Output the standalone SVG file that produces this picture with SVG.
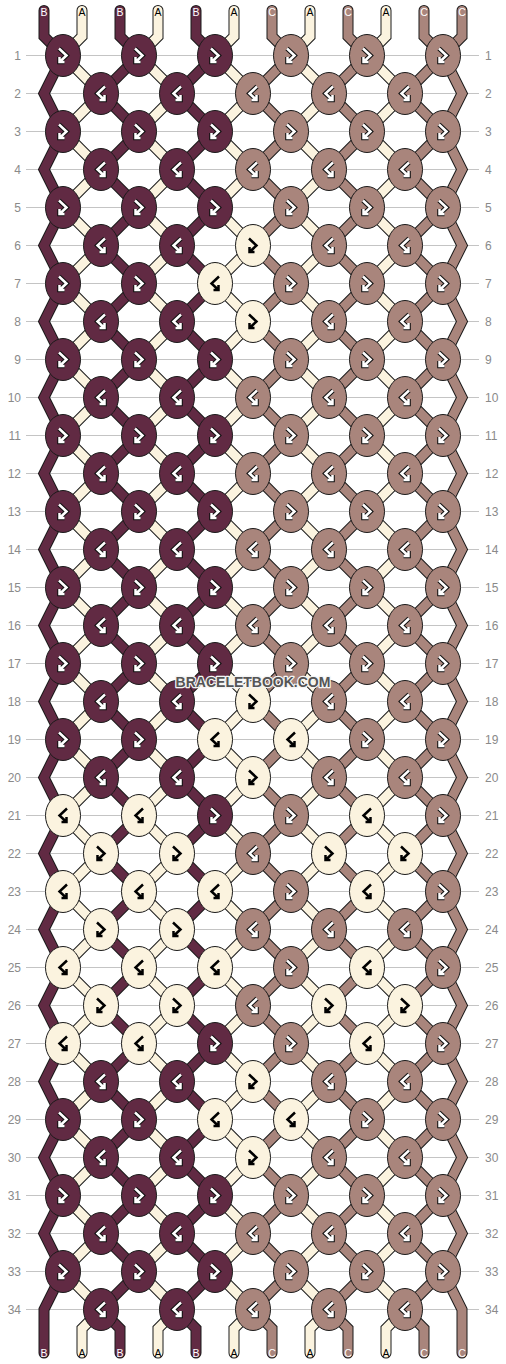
<svg xmlns="http://www.w3.org/2000/svg" xmlns:xlink="http://www.w3.org/1999/xlink" width="506" height="1364" viewBox="0 0 506 1364">
<style>
.grid{fill:none;stroke:#c4c4c4;stroke-width:1}
.rn{font-family:"Liberation Sans",Arial,sans-serif;font-size:12px;fill:#8a8a8a}
.rl{text-anchor:end}
.sl{font-family:"Liberation Sans",Arial,sans-serif;font-size:10.5px;text-anchor:middle}
.lw{fill:#fff}.lk{fill:#000}
.so{fill:none;stroke:#1a1a1a;stroke-width:11;stroke-linecap:round;stroke-linejoin:miter}
.sB,.sA,.sC{fill:none;stroke-width:9;stroke-linecap:round;stroke-linejoin:miter}
.sB{stroke:#612a43}.sA{stroke:#fbf3df}.sC{stroke:#a9857c}
.ko{stroke:#1a1a1a;stroke-width:1}
.fB{fill:#612a43}.fA{fill:#fbf3df}.fC{fill:#a9857c}
.gw1{fill:none;stroke:#111;stroke-width:4.6;stroke-linejoin:miter}
.gw2{fill:none;stroke:#fff;stroke-width:2.5;stroke-linejoin:miter}
.gk{fill:none;stroke:#000;stroke-width:2.5;stroke-linejoin:miter}
.wm{font-family:"Liberation Sans",Arial,sans-serif;font-weight:bold;font-size:14px;text-anchor:middle;fill:#555;stroke:#f4f4f4;stroke-width:2.5;paint-order:stroke;stroke-linejoin:round}
</style>
<defs>
<path id="gF" d="M-4,-7L3.5,0L-3.5,6.5M-3.5,1.5V6.5H1.5"/>
<path id="gB" d="M4,-7L-3.5,0L3.5,6.5M3.5,1.5V6.5H-1.5"/>
<g id="oB"><ellipse class="ko fB" rx="17.5" ry="21"/><use href="#gF" class="gw1"/><use href="#gF" class="gw2"/></g>
<g id="oC"><ellipse class="ko fC" rx="17.5" ry="21"/><use href="#gF" class="gw1"/><use href="#gF" class="gw2"/></g>
<g id="oA"><ellipse class="ko fA" rx="17.5" ry="21"/><use href="#gB" class="gk"/></g>
<g id="eB"><ellipse class="ko fB" rx="17.5" ry="21"/><use href="#gB" class="gw1"/><use href="#gB" class="gw2"/></g>
<g id="eC"><ellipse class="ko fC" rx="17.5" ry="21"/><use href="#gB" class="gw1"/><use href="#gB" class="gw2"/></g>
<g id="eA"><ellipse class="ko fA" rx="17.5" ry="21"/><use href="#gF" class="gk"/></g>
<path id="sL" d="M44,10.5V36.5l19,19l-19,38l19,38l-19,38l19,38l-19,38l19,38l-19,38l19,38l-19,38l19,38l-19,38l19,38l-19,38l19,38l-19,38l19,38l-19,38l19,38l-19,38l19,38l-19,38l19,38l-19,38l19,38l-19,38l19,38l-19,38l19,38l-19,38l19,38l-19,38l19,38l-19,38V1353"/>
<path id="sR" d="M462,10.5V36.5l-19,19l19,38l-19,38l19,38l-19,38l19,38l-19,38l19,38l-19,38l19,38l-19,38l19,38l-19,38l19,38l-19,38l19,38l-19,38l19,38l-19,38l19,38l-19,38l19,38l-19,38l19,38l-19,38l19,38l-19,38l19,38l-19,38l19,38l-19,38l19,38l-19,38l19,38V1353"/>
<path id="sE" d="M82,10.5V36.5l-19,19l38,38l-38,38l38,38l-38,38l38,38l-38,38l38,38l-38,38l38,38l-38,38l38,38l-38,38l38,38l-38,38l38,38l-38,38l38,38l-38,38l38,38l-38,38l38,38l-38,38l38,38l-38,38l38,38l-38,38l38,38l-38,38l38,38l-38,38l38,38l-38,38l38,38l-19,19V1353"/>
<path id="sO" d="M120,10.5V36.5l19,19l-38,38l38,38l-38,38l38,38l-38,38l38,38l-38,38l38,38l-38,38l38,38l-38,38l38,38l-38,38l38,38l-38,38l38,38l-38,38l38,38l-38,38l38,38l-38,38l38,38l-38,38l38,38l-38,38l38,38l-38,38l38,38l-38,38l38,38l-38,38l38,38l-38,38l19,19V1353"/>
</defs>
<rect width="506" height="1364" fill="#fff"/>
<g id="rows">
<path class="grid" d="M26,55.5H479M26,93.5H479M26,131.5H479M26,169.5H479M26,207.5H479M26,245.5H479M26,283.5H479M26,321.5H479M26,359.5H479M26,397.5H479M26,435.5H479M26,473.5H479M26,511.5H479M26,549.5H479M26,587.5H479M26,625.5H479M26,663.5H479M26,701.5H479M26,739.5H479M26,777.5H479M26,815.5H479M26,853.5H479M26,891.5H479M26,929.5H479M26,967.5H479M26,1005.5H479M26,1043.5H479M26,1081.5H479M26,1119.5H479M26,1157.5H479M26,1195.5H479M26,1233.5H479M26,1271.5H479M26,1309.5H479"/>
<g class="rn rl">
<text x="21" y="59.5">1</text><text x="21" y="97.5">2</text><text x="21" y="135.5">3</text><text x="21" y="173.5">4</text><text x="21" y="211.5">5</text><text x="21" y="249.5">6</text><text x="21" y="287.5">7</text><text x="21" y="325.5">8</text><text x="21" y="363.5">9</text><text x="21" y="401.5">10</text><text x="21" y="439.5">11</text><text x="21" y="477.5">12</text><text x="21" y="515.5">13</text><text x="21" y="553.5">14</text><text x="21" y="591.5">15</text><text x="21" y="629.5">16</text><text x="21" y="667.5">17</text><text x="21" y="705.5">18</text><text x="21" y="743.5">19</text><text x="21" y="781.5">20</text><text x="21" y="819.5">21</text><text x="21" y="857.5">22</text><text x="21" y="895.5">23</text><text x="21" y="933.5">24</text><text x="21" y="971.5">25</text><text x="21" y="1009.5">26</text><text x="21" y="1047.5">27</text><text x="21" y="1085.5">28</text><text x="21" y="1123.5">29</text><text x="21" y="1161.5">30</text><text x="21" y="1199.5">31</text><text x="21" y="1237.5">32</text><text x="21" y="1275.5">33</text><text x="21" y="1313.5">34</text>
</g>
<g class="rn">
<text x="485" y="59.5">1</text><text x="485" y="97.5">2</text><text x="485" y="135.5">3</text><text x="485" y="173.5">4</text><text x="485" y="211.5">5</text><text x="485" y="249.5">6</text><text x="485" y="287.5">7</text><text x="485" y="325.5">8</text><text x="485" y="363.5">9</text><text x="485" y="401.5">10</text><text x="485" y="439.5">11</text><text x="485" y="477.5">12</text><text x="485" y="515.5">13</text><text x="485" y="553.5">14</text><text x="485" y="591.5">15</text><text x="485" y="629.5">16</text><text x="485" y="667.5">17</text><text x="485" y="705.5">18</text><text x="485" y="743.5">19</text><text x="485" y="781.5">20</text><text x="485" y="819.5">21</text><text x="485" y="857.5">22</text><text x="485" y="895.5">23</text><text x="485" y="933.5">24</text><text x="485" y="971.5">25</text><text x="485" y="1009.5">26</text><text x="485" y="1047.5">27</text><text x="485" y="1085.5">28</text><text x="485" y="1123.5">29</text><text x="485" y="1161.5">30</text><text x="485" y="1199.5">31</text><text x="485" y="1237.5">32</text><text x="485" y="1275.5">33</text><text x="485" y="1313.5">34</text>
</g>
</g>
<g id="strings">
<g id="s1"><use href="#sL" class="so"/><use href="#sL" class="sB"/></g>
<g id="s2"><use href="#sE" class="so"/><use href="#sE" class="sA"/></g>
<g id="s3"><use href="#sO" class="so"/><use href="#sO" class="sB"/></g>
<g id="s4"><use href="#sE" x="76" class="so"/><use href="#sE" x="76" class="sA"/></g>
<g id="s5"><use href="#sO" x="76" class="so"/><use href="#sO" x="76" class="sB"/></g>
<g id="s6"><use href="#sE" x="152" class="so"/><use href="#sE" x="152" class="sA"/></g>
<g id="s7"><use href="#sO" x="152" class="so"/><use href="#sO" x="152" class="sC"/></g>
<g id="s8"><use href="#sE" x="228" class="so"/><use href="#sE" x="228" class="sA"/></g>
<g id="s9"><use href="#sO" x="228" class="so"/><use href="#sO" x="228" class="sC"/></g>
<g id="s10"><use href="#sE" x="304" class="so"/><use href="#sE" x="304" class="sA"/></g>
<g id="s11"><use href="#sO" x="304" class="so"/><use href="#sO" x="304" class="sC"/></g>
<g id="s12"><use href="#sR" class="so"/><use href="#sR" class="sC"/></g>
</g>
<g id="labels" class="sl">
<text x="44" y="15.5" class="lw">B</text><text x="82" y="15.5" class="lk">A</text><text x="120" y="15.5" class="lw">B</text><text x="158" y="15.5" class="lk">A</text><text x="196" y="15.5" class="lw">B</text><text x="234" y="15.5" class="lk">A</text><text x="272" y="15.5" class="lw">C</text><text x="310" y="15.5" class="lk">A</text><text x="348" y="15.5" class="lw">C</text><text x="386" y="15.5" class="lk">A</text><text x="424" y="15.5" class="lw">C</text><text x="462" y="15.5" class="lw">C</text>
<text x="44" y="1356.5" class="lw">B</text><text x="82" y="1356.5" class="lk">A</text><text x="120" y="1356.5" class="lw">B</text><text x="158" y="1356.5" class="lk">A</text><text x="196" y="1356.5" class="lw">B</text><text x="234" y="1356.5" class="lk">A</text><text x="272" y="1356.5" class="lw">C</text><text x="310" y="1356.5" class="lk">A</text><text x="348" y="1356.5" class="lw">C</text><text x="386" y="1356.5" class="lk">A</text><text x="424" y="1356.5" class="lw">C</text><text x="462" y="1356.5" class="lw">C</text>
</g>
<g id="knots">
<g id="k1-1"><use href="#oB" x="63" y="55.5"/></g><g id="k1-2"><use href="#oB" x="139" y="55.5"/></g><g id="k1-3"><use href="#oB" x="215" y="55.5"/></g><g id="k1-4"><use href="#oC" x="291" y="55.5"/></g><g id="k1-5"><use href="#oC" x="367" y="55.5"/></g><g id="k1-6"><use href="#oC" x="443" y="55.5"/></g>
<g id="k2-1"><use href="#eB" x="101" y="93.5"/></g><g id="k2-2"><use href="#eB" x="177" y="93.5"/></g><g id="k2-3"><use href="#eC" x="253" y="93.5"/></g><g id="k2-4"><use href="#eC" x="329" y="93.5"/></g><g id="k2-5"><use href="#eC" x="405" y="93.5"/></g>
<g id="k3-1"><use href="#oB" x="63" y="131.5"/></g><g id="k3-2"><use href="#oB" x="139" y="131.5"/></g><g id="k3-3"><use href="#oB" x="215" y="131.5"/></g><g id="k3-4"><use href="#oC" x="291" y="131.5"/></g><g id="k3-5"><use href="#oC" x="367" y="131.5"/></g><g id="k3-6"><use href="#oC" x="443" y="131.5"/></g>
<g id="k4-1"><use href="#eB" x="101" y="169.5"/></g><g id="k4-2"><use href="#eB" x="177" y="169.5"/></g><g id="k4-3"><use href="#eC" x="253" y="169.5"/></g><g id="k4-4"><use href="#eC" x="329" y="169.5"/></g><g id="k4-5"><use href="#eC" x="405" y="169.5"/></g>
<g id="k5-1"><use href="#oB" x="63" y="207.5"/></g><g id="k5-2"><use href="#oB" x="139" y="207.5"/></g><g id="k5-3"><use href="#oB" x="215" y="207.5"/></g><g id="k5-4"><use href="#oC" x="291" y="207.5"/></g><g id="k5-5"><use href="#oC" x="367" y="207.5"/></g><g id="k5-6"><use href="#oC" x="443" y="207.5"/></g>
<g id="k6-1"><use href="#eB" x="101" y="245.5"/></g><g id="k6-2"><use href="#eB" x="177" y="245.5"/></g><g id="k6-3"><use href="#eA" x="253" y="245.5"/></g><g id="k6-4"><use href="#eC" x="329" y="245.5"/></g><g id="k6-5"><use href="#eC" x="405" y="245.5"/></g>
<g id="k7-1"><use href="#oB" x="63" y="283.5"/></g><g id="k7-2"><use href="#oB" x="139" y="283.5"/></g><g id="k7-3"><use href="#oA" x="215" y="283.5"/></g><g id="k7-4"><use href="#oC" x="291" y="283.5"/></g><g id="k7-5"><use href="#oC" x="367" y="283.5"/></g><g id="k7-6"><use href="#oC" x="443" y="283.5"/></g>
<g id="k8-1"><use href="#eB" x="101" y="321.5"/></g><g id="k8-2"><use href="#eB" x="177" y="321.5"/></g><g id="k8-3"><use href="#eA" x="253" y="321.5"/></g><g id="k8-4"><use href="#eC" x="329" y="321.5"/></g><g id="k8-5"><use href="#eC" x="405" y="321.5"/></g>
<g id="k9-1"><use href="#oB" x="63" y="359.5"/></g><g id="k9-2"><use href="#oB" x="139" y="359.5"/></g><g id="k9-3"><use href="#oB" x="215" y="359.5"/></g><g id="k9-4"><use href="#oC" x="291" y="359.5"/></g><g id="k9-5"><use href="#oC" x="367" y="359.5"/></g><g id="k9-6"><use href="#oC" x="443" y="359.5"/></g>
<g id="k10-1"><use href="#eB" x="101" y="397.5"/></g><g id="k10-2"><use href="#eB" x="177" y="397.5"/></g><g id="k10-3"><use href="#eC" x="253" y="397.5"/></g><g id="k10-4"><use href="#eC" x="329" y="397.5"/></g><g id="k10-5"><use href="#eC" x="405" y="397.5"/></g>
<g id="k11-1"><use href="#oB" x="63" y="435.5"/></g><g id="k11-2"><use href="#oB" x="139" y="435.5"/></g><g id="k11-3"><use href="#oB" x="215" y="435.5"/></g><g id="k11-4"><use href="#oC" x="291" y="435.5"/></g><g id="k11-5"><use href="#oC" x="367" y="435.5"/></g><g id="k11-6"><use href="#oC" x="443" y="435.5"/></g>
<g id="k12-1"><use href="#eB" x="101" y="473.5"/></g><g id="k12-2"><use href="#eB" x="177" y="473.5"/></g><g id="k12-3"><use href="#eC" x="253" y="473.5"/></g><g id="k12-4"><use href="#eC" x="329" y="473.5"/></g><g id="k12-5"><use href="#eC" x="405" y="473.5"/></g>
<g id="k13-1"><use href="#oB" x="63" y="511.5"/></g><g id="k13-2"><use href="#oB" x="139" y="511.5"/></g><g id="k13-3"><use href="#oB" x="215" y="511.5"/></g><g id="k13-4"><use href="#oC" x="291" y="511.5"/></g><g id="k13-5"><use href="#oC" x="367" y="511.5"/></g><g id="k13-6"><use href="#oC" x="443" y="511.5"/></g>
<g id="k14-1"><use href="#eB" x="101" y="549.5"/></g><g id="k14-2"><use href="#eB" x="177" y="549.5"/></g><g id="k14-3"><use href="#eC" x="253" y="549.5"/></g><g id="k14-4"><use href="#eC" x="329" y="549.5"/></g><g id="k14-5"><use href="#eC" x="405" y="549.5"/></g>
<g id="k15-1"><use href="#oB" x="63" y="587.5"/></g><g id="k15-2"><use href="#oB" x="139" y="587.5"/></g><g id="k15-3"><use href="#oB" x="215" y="587.5"/></g><g id="k15-4"><use href="#oC" x="291" y="587.5"/></g><g id="k15-5"><use href="#oC" x="367" y="587.5"/></g><g id="k15-6"><use href="#oC" x="443" y="587.5"/></g>
<g id="k16-1"><use href="#eB" x="101" y="625.5"/></g><g id="k16-2"><use href="#eB" x="177" y="625.5"/></g><g id="k16-3"><use href="#eC" x="253" y="625.5"/></g><g id="k16-4"><use href="#eC" x="329" y="625.5"/></g><g id="k16-5"><use href="#eC" x="405" y="625.5"/></g>
<g id="k17-1"><use href="#oB" x="63" y="663.5"/></g><g id="k17-2"><use href="#oB" x="139" y="663.5"/></g><g id="k17-3"><use href="#oB" x="215" y="663.5"/></g><g id="k17-4"><use href="#oC" x="291" y="663.5"/></g><g id="k17-5"><use href="#oC" x="367" y="663.5"/></g><g id="k17-6"><use href="#oC" x="443" y="663.5"/></g>
<g id="k18-1"><use href="#eB" x="101" y="701.5"/></g><g id="k18-2"><use href="#eB" x="177" y="701.5"/></g><g id="k18-3"><use href="#eA" x="253" y="701.5"/></g><g id="k18-4"><use href="#eC" x="329" y="701.5"/></g><g id="k18-5"><use href="#eC" x="405" y="701.5"/></g>
<g id="k19-1"><use href="#oB" x="63" y="739.5"/></g><g id="k19-2"><use href="#oB" x="139" y="739.5"/></g><g id="k19-3"><use href="#oA" x="215" y="739.5"/></g><g id="k19-4"><use href="#oA" x="291" y="739.5"/></g><g id="k19-5"><use href="#oC" x="367" y="739.5"/></g><g id="k19-6"><use href="#oC" x="443" y="739.5"/></g>
<g id="k20-1"><use href="#eB" x="101" y="777.5"/></g><g id="k20-2"><use href="#eB" x="177" y="777.5"/></g><g id="k20-3"><use href="#eA" x="253" y="777.5"/></g><g id="k20-4"><use href="#eC" x="329" y="777.5"/></g><g id="k20-5"><use href="#eC" x="405" y="777.5"/></g>
<g id="k21-1"><use href="#oA" x="63" y="815.5"/></g><g id="k21-2"><use href="#oA" x="139" y="815.5"/></g><g id="k21-3"><use href="#oB" x="215" y="815.5"/></g><g id="k21-4"><use href="#oC" x="291" y="815.5"/></g><g id="k21-5"><use href="#oA" x="367" y="815.5"/></g><g id="k21-6"><use href="#oC" x="443" y="815.5"/></g>
<g id="k22-1"><use href="#eA" x="101" y="853.5"/></g><g id="k22-2"><use href="#eA" x="177" y="853.5"/></g><g id="k22-3"><use href="#eC" x="253" y="853.5"/></g><g id="k22-4"><use href="#eA" x="329" y="853.5"/></g><g id="k22-5"><use href="#eA" x="405" y="853.5"/></g>
<g id="k23-1"><use href="#oA" x="63" y="891.5"/></g><g id="k23-2"><use href="#oA" x="139" y="891.5"/></g><g id="k23-3"><use href="#oA" x="215" y="891.5"/></g><g id="k23-4"><use href="#oC" x="291" y="891.5"/></g><g id="k23-5"><use href="#oA" x="367" y="891.5"/></g><g id="k23-6"><use href="#oC" x="443" y="891.5"/></g>
<g id="k24-1"><use href="#eA" x="101" y="929.5"/></g><g id="k24-2"><use href="#eA" x="177" y="929.5"/></g><g id="k24-3"><use href="#eC" x="253" y="929.5"/></g><g id="k24-4"><use href="#eC" x="329" y="929.5"/></g><g id="k24-5"><use href="#eC" x="405" y="929.5"/></g>
<g id="k25-1"><use href="#oA" x="63" y="967.5"/></g><g id="k25-2"><use href="#oA" x="139" y="967.5"/></g><g id="k25-3"><use href="#oA" x="215" y="967.5"/></g><g id="k25-4"><use href="#oC" x="291" y="967.5"/></g><g id="k25-5"><use href="#oA" x="367" y="967.5"/></g><g id="k25-6"><use href="#oC" x="443" y="967.5"/></g>
<g id="k26-1"><use href="#eA" x="101" y="1005.5"/></g><g id="k26-2"><use href="#eA" x="177" y="1005.5"/></g><g id="k26-3"><use href="#eC" x="253" y="1005.5"/></g><g id="k26-4"><use href="#eA" x="329" y="1005.5"/></g><g id="k26-5"><use href="#eA" x="405" y="1005.5"/></g>
<g id="k27-1"><use href="#oA" x="63" y="1043.5"/></g><g id="k27-2"><use href="#oA" x="139" y="1043.5"/></g><g id="k27-3"><use href="#oB" x="215" y="1043.5"/></g><g id="k27-4"><use href="#oC" x="291" y="1043.5"/></g><g id="k27-5"><use href="#oA" x="367" y="1043.5"/></g><g id="k27-6"><use href="#oC" x="443" y="1043.5"/></g>
<g id="k28-1"><use href="#eB" x="101" y="1081.5"/></g><g id="k28-2"><use href="#eB" x="177" y="1081.5"/></g><g id="k28-3"><use href="#eA" x="253" y="1081.5"/></g><g id="k28-4"><use href="#eC" x="329" y="1081.5"/></g><g id="k28-5"><use href="#eC" x="405" y="1081.5"/></g>
<g id="k29-1"><use href="#oB" x="63" y="1119.5"/></g><g id="k29-2"><use href="#oB" x="139" y="1119.5"/></g><g id="k29-3"><use href="#oA" x="215" y="1119.5"/></g><g id="k29-4"><use href="#oA" x="291" y="1119.5"/></g><g id="k29-5"><use href="#oC" x="367" y="1119.5"/></g><g id="k29-6"><use href="#oC" x="443" y="1119.5"/></g>
<g id="k30-1"><use href="#eB" x="101" y="1157.5"/></g><g id="k30-2"><use href="#eB" x="177" y="1157.5"/></g><g id="k30-3"><use href="#eA" x="253" y="1157.5"/></g><g id="k30-4"><use href="#eC" x="329" y="1157.5"/></g><g id="k30-5"><use href="#eC" x="405" y="1157.5"/></g>
<g id="k31-1"><use href="#oB" x="63" y="1195.5"/></g><g id="k31-2"><use href="#oB" x="139" y="1195.5"/></g><g id="k31-3"><use href="#oB" x="215" y="1195.5"/></g><g id="k31-4"><use href="#oC" x="291" y="1195.5"/></g><g id="k31-5"><use href="#oC" x="367" y="1195.5"/></g><g id="k31-6"><use href="#oC" x="443" y="1195.5"/></g>
<g id="k32-1"><use href="#eB" x="101" y="1233.5"/></g><g id="k32-2"><use href="#eB" x="177" y="1233.5"/></g><g id="k32-3"><use href="#eC" x="253" y="1233.5"/></g><g id="k32-4"><use href="#eC" x="329" y="1233.5"/></g><g id="k32-5"><use href="#eC" x="405" y="1233.5"/></g>
<g id="k33-1"><use href="#oB" x="63" y="1271.5"/></g><g id="k33-2"><use href="#oB" x="139" y="1271.5"/></g><g id="k33-3"><use href="#oB" x="215" y="1271.5"/></g><g id="k33-4"><use href="#oC" x="291" y="1271.5"/></g><g id="k33-5"><use href="#oC" x="367" y="1271.5"/></g><g id="k33-6"><use href="#oC" x="443" y="1271.5"/></g>
<g id="k34-1"><use href="#eB" x="101" y="1309.5"/></g><g id="k34-2"><use href="#eB" x="177" y="1309.5"/></g><g id="k34-3"><use href="#eC" x="253" y="1309.5"/></g><g id="k34-4"><use href="#eC" x="329" y="1309.5"/></g><g id="k34-5"><use href="#eC" x="405" y="1309.5"/></g>
</g>
<text class="wm" x="253" y="687">BRACELETBOOK.COM</text>
</svg>
